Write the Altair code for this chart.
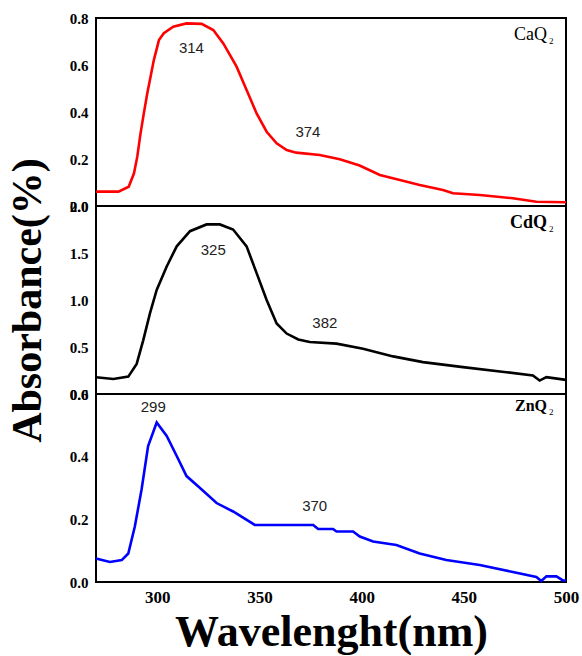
import altair as alt
import pandas as pd

# ---- data ----
ca_wl = [270, 281, 286, 288.6, 290.2, 291.8, 293.4, 295.1, 296.7, 298.3, 300.8, 303.2, 307.8, 314.3,
         321.7, 327.4, 332.3, 338.8, 343.7, 348.6, 353.5, 358.4, 363.3, 368, 379.5, 389.3, 399,
         408.9, 418.7, 428.4, 439.8, 444.7, 457.8, 474, 485.5, 500]
ca_abs = [0.061, 0.061, 0.082, 0.139, 0.21, 0.309, 0.394, 0.48, 0.55, 0.621, 0.706, 0.735, 0.763, 0.777,
          0.775, 0.749, 0.692, 0.593, 0.494, 0.394, 0.316, 0.267, 0.238, 0.227, 0.217, 0.199, 0.172,
          0.132, 0.111, 0.089, 0.068, 0.054, 0.047, 0.033, 0.018, 0.016]

cd_wl = [270, 278.5, 285.8, 289.9, 293.1, 296.4, 299.7, 304.6, 309.5, 316, 324.1, 330.6, 337.1,
         343.7, 348.6, 353.5, 358.4, 363.3, 369, 374.6, 387.7, 400.7, 415.4, 430, 449.6, 470.8,
         483.8, 487.1, 490.4, 500]
cd_abs = [0.178, 0.16, 0.185, 0.32, 0.571, 0.857, 1.107, 1.357, 1.571, 1.732, 1.804, 1.804, 1.75,
          1.571, 1.286, 1.0, 0.75, 0.643, 0.58, 0.554, 0.536, 0.482, 0.4, 0.339, 0.286, 0.232,
          0.196, 0.143, 0.179, 0.15]

zn_wl = [270, 276.8, 282.6, 285.8, 289, 292.3, 295.5, 299.7, 304.6, 309.5, 314.3, 320.9, 329,
         337.1, 347.7, 376.3, 378.7, 386, 387.7, 395.8, 399.1, 405.6, 417, 428.4, 441.4, 457.8,
         474, 485.5, 487.9, 490.4, 495.3, 498.5, 500]
zn_abs = [0.075, 0.064, 0.07, 0.091, 0.177, 0.295, 0.434, 0.509, 0.466, 0.402, 0.338, 0.3, 0.252,
          0.225, 0.182, 0.182, 0.169, 0.169, 0.161, 0.161, 0.145, 0.129, 0.118, 0.091, 0.07, 0.054,
          0.032, 0.016, 0.003, 0.018, 0.018, 0.005, 0.005]

ca_peaks = ["314", "374"]
ca_peak_x = [316.7, 373.7]
ca_peak_y = [0.674, 0.316]
cd_peaks = ["325", "382"]
cd_peak_x = [327.4, 382]
cd_peak_y = [1.536, 0.757]
zn_peaks = ["299", "370"]
zn_peak_x = [298, 377]
zn_peak_y = [0.557, 0.241]

x_ticks = [300, 350, 400, 450, 500]

SERIF = "Liberation Serif"
W = 470


def panel(wl, ab, color, ymax, yticks, pk, pkx, pky, name, name_weight, name_size,
          name_y, height, ytitle=None, show_x=False):
    df = pd.DataFrame({"wl": wl, "ab": ab})
    ann = pd.DataFrame({"t": pk, "wl": pkx, "ab": pky})
    if show_x:
        xaxis = alt.Axis(values=x_ticks, labelFont=SERIF, labelFontWeight="bold",
                         labelFontSize=17, labelColor="black", ticks=False, domain=False,
                         grid=False, labelFlush=False, labelPadding=7,
                         title="Wavelenght(nm)", titleFont=SERIF, titleFontSize=44,
                         titleFontWeight="bold", titleColor="black", titlePadding=5)
        x = alt.X("wl:Q", scale=alt.Scale(domain=[270, 500], nice=False, zero=False), axis=xaxis)
    else:
        x = alt.X("wl:Q", scale=alt.Scale(domain=[270, 500], nice=False, zero=False), axis=None)
    yargs = dict(values=yticks, labelFont=SERIF, labelFontWeight="bold", labelFontSize=15,
                 labelColor="black", ticks=False, domain=False, grid=False, labelPadding=8,
                 format=".1f")
    if ytitle:
        yaxis = alt.Axis(title=ytitle, titleFont=SERIF, titleFontSize=42,
                         titleFontWeight="bold", titleColor="black", titlePadding=20, **yargs)
    else:
        yaxis = alt.Axis(title=None, **yargs)
    y = alt.Y("ab:Q", scale=alt.Scale(domain=[0, ymax], nice=False, zero=False), axis=yaxis)

    line = alt.Chart(df).mark_line(color=color, strokeWidth=2.6).encode(x=x, y=y)
    txt = alt.Chart(ann).mark_text(font="Liberation Sans", fontSize=15, color="#222",
                                   baseline="middle").encode(x="wl:Q", y="ab:Q", text="t:N")
    lab = alt.Chart(pd.DataFrame({"t": [name]})).mark_text(
        font=SERIF, fontSize=name_size, fontWeight=name_weight, color="black",
        align="right", baseline="alphabetic").encode(
        x=alt.value(451), y=alt.value(name_y), text="t:N")
    sub = alt.Chart(pd.DataFrame({"t": ["2"]})).mark_text(
        font=SERIF, fontSize=9, color="black", align="left",
        baseline="alphabetic").encode(x=alt.value(453), y=alt.value(name_y + 4), text="t:N")
    return alt.layer(line, txt, lab, sub).properties(width=W, height=height)


top = panel(ca_wl, ca_abs, "#ff0000", 0.8, [0, 0.2, 0.4, 0.6, 0.8], ca_peaks, ca_peak_x,
            ca_peak_y, "CaQ", "normal", 18, 22, 188)
mid = panel(cd_wl, cd_abs, "#000000", 2.0, [0, 0.5, 1.0, 1.5, 2.0], cd_peaks, cd_peak_x,
            cd_peak_y, "CdQ", "bold", 18, 22, 188, ytitle="Absorbance(%)")
bot = panel(zn_wl, zn_abs, "#0000ff", 0.6, [0, 0.2, 0.4, 0.6], zn_peaks, zn_peak_x,
            zn_peak_y, "ZnQ", "bold", 16, 17, 188, show_x=True)

chart = alt.vconcat(top, mid, bot, spacing=0, bounds="flush").properties(
    padding={"left": 5, "right": 0, "top": 10, "bottom": 0},
    background="white",
).configure_view(stroke="black", strokeWidth=2)

chart.save("out.html", embed_options={"renderer": "svg", "actions": False})
